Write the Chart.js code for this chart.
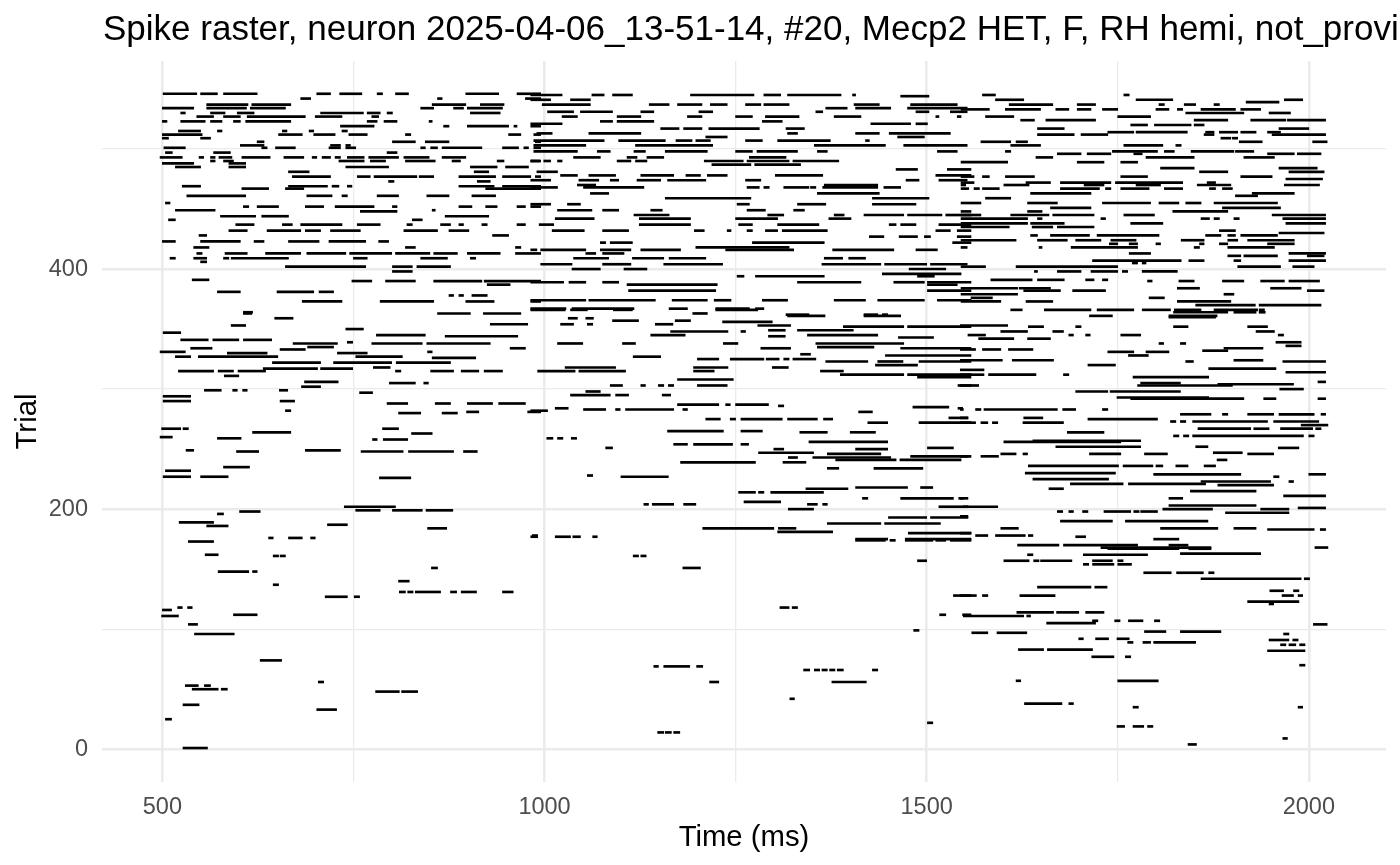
<!DOCTYPE html>
<html>
<head>
<meta charset="utf-8">
<title>Spike raster</title>
<script src="https://cdn.jsdelivr.net/npm/chart.js@4.4.1/dist/chart.umd.min.js"></script>
<style>
  html, body { margin: 0; padding: 0; background: #ffffff; }
  #wrap { position: relative; width: 1400px; height: 865px; overflow: hidden; }
</style>
</head>
<body>
<div id="wrap"><canvas id="chartRaster" width="1400" height="865"></canvas></div>
<script>
const chartTitle = 'Spike raster, neuron 2025-04-06_13-51-14, #20, Mecp2 HET, F, RH hemi, not_provided';
const xTitle = 'Time (ms)';
const yTitle = 'Trial';

// axis ticks (major ones get a label, minor ones only a grid line)
const xMajor = [500, 1000, 1500, 2000];
const xMinor = [750, 1250, 1750];
const yMajor = [0, 200, 400];
const yMinor = [100, 300, 500];

// spike runs: [trial, start ms, end ms]
const burstsLow = [
  [173,534,567],[162,556,573],[161,645,652],[161,654,661],[148,573,613],[148,618,624],[137,645,652],[127,713,742],[127,751,758],
  [116,500,512],[118,520,526],[118,533,539],[111,499,521],[112,593,624],[104,534,546],[96,542,594],[74,628,656],[56,704,711],
  [53,530,547],[53,555,563],[50,539,573],[50,577,585],[37,527,548],[33,702,728],[25,504,512],[1,527,559],[48,779,810],[48,813,834],
  [151,852,860],[140,809,823],[131,810,818],[131,821,828],[131,831,864],[131,877,885],[131,891,911],[131,945,959],
  [161,1116,1123],[161,1126,1133],[151,1181,1204],[174,1407,1446],[174,1452,1459],[174,1472,1508],[174,1512,1525],[174,1531,1558],
  [157,1488,1500],[128,1535,1558],[118,1308,1320],[118,1324,1331],[112,1517,1525],[112,1547,1558],[99,1483,1490],
  [69,1143,1149],[69,1156,1190],[69,1199,1207],[56,1216,1228],[14,1148,1156],[14,1158,1166],[14,1169,1177],
  [66,1339,1347],[66,1353,1360],[66,1363,1370],[66,1373,1380],[66,1383,1391],[66,1429,1436],[56,1376,1421],[42,1321,1327],[22,1501,1508],
  [170,1619,1673],[170,1679,1776],[170,1817,1842],[167,1737,1830],[167,1843,1872],[163,1832,1937],[162,1705,1789],[162,1632,1639],
  [157,1601,1634],[157,1640,1647],[157,1649,1690],[157,1717,1743],[157,1750,1757],[154,1705,1712],[154,1717,1745],[154,1750,1768],
  [147,1784,1820],[147,1827,1862],[147,1869,1876],[142,1859,1990],[142,1994,2001],[168,2008,2025],[135,1645,1715],[135,1720,1736],
  [132,1949,1967],[132,1980,1987],[128,1965,1980],[128,1986,1992],[128,1544,1565],[128,1573,1580],[128,1622,1668],[123,1920,1987],
  [121,1948,1954],[114,1618,1666],[114,1670,1699],[114,1708,1732],[111,1548,1627],[111,1631,1636],[105,1657,1721],
  [107,1717,1724],[107,1746,1753],[107,1764,1783],[107,1798,1805],[104,2006,2024],[97,1559,1580],[97,1592,1631],[98,1785,1813],[98,1832,1885],
  [92,1699,1705],[92,1721,1738],[92,1749,1765],[89,1763,1770],[89,1783,1793],[89,1797,1852],[96,1967,1974],[91,1948,1974],[91,1979,1986],
  [87,1963,1970],[87,1974,1983],[87,1988,1995],[82,1946,1995],[83,1620,1653],[83,1658,1717],[77,1716,1745],[77,1760,1767],[70,1988,1995],
  [57,1617,1623],[57,1750,1803],[38,1628,1677],[38,1686,1692],[35,1770,1777],[35,1986,1992],[19,1749,1759],[19,1770,1784],[19,1789,1796],
  [9,1966,1972],[4,1842,1853],
  [199,753,785],[199,801,840],[199,845,880],[196,572,580],[198,601,628],[189,522,567],[186,558,586],[187,716,742],[184,847,872],
  [176,639,645],[176,665,683],[176,694,700],[178,984,991],
  [193,1450,1500],[193,1505,1554],[188,1370,1440],[188,1445,1518],[184,1207,1300],[184,1306,1329],[181,1305,1377],[180,1476,1558],
  [175,1407,1449],[175,1472,1558],[177,982,991],[177,1014,1034],[177,1037,1047],[177,1063,1069],
  [198,1671,1678],[198,1686,1692],[198,1704,1711],[198,1732,1767],[198,1771,1778],[198,1780,1802],[197,1891,1974],[190,1675,1743],[190,1760,1868],
  [194,1544,1554],[184,1597,1620],[184,1806,1881],[184,1902,1931],[183,1946,2007],[183,2015,2022],[180,1544,1558],[178,1564,1580],
  [178,1590,1629],[178,1633,1639],[177,1695,1708],[175,1797,1830],[168,1728,1872]
];

const burstsMid = [
  [364,606,618],[359,647,671],[353,590,609],[350,740,763],[347,501,524],[341,524,560],[341,566,600],[341,606,643],[345,780,844],[344,870,965],
  [363,860,903],[363,920,969],[354,929,978],[338,671,729],[339,742,749],[338,774,840],[338,846,929],[331,497,530],[334,537,565],[330,585,637],
  [333,654,687],[330,729,768],[335,690,724],[327,517,537],[327,547,651],[327,753,814],[326,853,910],[334,955,975],[331,847,853],[322,644,707],
  [322,724,800],[322,806,877],[315,521,567],[315,573,593],[315,599,635],[317,632,703],[317,707,749],[318,776,798],[315,805,812],[315,851,881],
  [315,891,914],[315,921,945],[311,581,600],[306,686,730],[302,682,707],[305,797,831],[305,842,848],[299,555,577],[299,592,598],[299,605,611],
  [299,653,664],[297,758,775],[294,501,537],[290,501,537],[290,654,673],[282,661,668],[288,794,821],[288,857,877],[288,899,932],[288,940,975],
  [280,809,838],[280,866,886],[281,898,914],[281,978,995],[267,499,524],[267,527,534],[260,497,513],[259,572,603],[264,618,668],[267,788,809],
  [263,826,853],[258,775,781],[258,789,821],[249,531,541],[248,597,626],[249,687,733],[248,760,815],[248,822,881],[248,894,912],[232,504,537],
  [227,501,537],[227,550,586],[235,580,614],[226,784,825],[202,738,805],
  [366,982,1027],[366,1034,1056],[366,1090,1115],[359,1031,1043],[359,1054,1064],[354,1021,1038],[354,1056,1063],[357,1089,1123],[354,1145,1168],
  [357,1171,1191],[363,1194,1213],[366,1224,1279],[356,1233,1298],[353,1279,1322],[361,1318,1367],[361,1418,1466],[345,1139,1184],[348,1165,1240],
  [348,1257,1263],[349,1293,1315],[344,1293,1315],[349,1331,1404],[345,1344,1436],[352,1391,1470],[352,1475,1558],[343,1463,1509],[338,1017,1050],
  [338,1102,1119],[338,1234,1253],[334,1283,1322],[338,1355,1470],[335,1357,1431],[334,1466,1558],[328,1446,1558],[327,1116,1152],[325,1200,1228],
  [325,1243,1287],[325,1290,1307],[325,1313,1320],[325,1325,1355],[329,1335,1348],[323,1368,1423],[323,1436,1469],[323,1490,1558],[320,1433,1488],
  [318,1027,1093],[315,991,1040],[315,1045,1106],[318,1195,1240],[315,1195,1222],[318,1298,1319],[315,1361,1391],[312,1387,1470],[312,1475,1558],
  [310,1488,1558],[308,1174,1247],[303,1200,1239],[303,1086,1102],[303,1126,1132],[303,1149,1156],[303,1162,1169],[303,1541,1558],[295,1034,1086],
  [295,1093,1110],[298,1054,1073],[295,1154,1165],[282,982,1004],[284,1014,1031],[283,1051,1080],[283,1093,1099],[283,1106,1169],[283,1181,1187],
  [287,1174,1228],[287,1237,1243],[287,1250,1293],[286,1306,1313],[281,1411,1429],[285,1482,1529],[284,1541,1547],[275,1211,1230],[275,1243,1250],
  [275,1257,1311],[275,1318,1357],[275,1365,1377],[272,1423,1449],[272,1490,1558],[276,1529,1554],[265,1161,1234],[265,1257,1285],[264,1334,1370],
  [264,1400,1433],[259,1003,1011],[259,1017,1024],[259,1035,1042],[256,1346,1449],[254,1169,1187],[254,1195,1246],[254,1257,1267],[251,1080,1089],
  [247,1280,1352],[250,1300,1313],[243,1319,1331],[243,1351,1453],[246,1370,1440],[250,1407,1449],[241,1381,1460],[241,1465,1545],[244,1479,1558],
  [251,1501,1535],[239,1178,1276],[239,1312,1342],[234,1370,1385],[234,1431,1495],[228,1056,1063],[227,1100,1162],[217,1342,1397],[218,1407,1475],
  [218,1492,1508],[214,1254,1276],[214,1280,1287],[214,1296,1365],[209,1416,1423],[209,1466,1535],[209,1542,1548],[206,1261,1309],[204,1130,1136],
  [204,1141,1169],[204,1182,1198],[204,1344,1357],[204,1364,1370],[200,1319,1352],[202,1516,1554],
  [364,1823,1894],[364,1902,1931],[364,1935,1943],[360,1817,1878],[353,1544,1606],[352,1633,1653],[352,1695,1702],[352,1823,1842],[352,1920,1946],
  [348,1597,1632],[348,1665,1679],[348,1931,1955],[345,1960,1967],[345,1554,1577],[345,1686,1692],[345,1708,1714],[345,1754,1780],[342,1568,1614],
  [342,1632,1662],[339,1957,1990],[336,1970,1990],[338,1804,1810],[338,1832,1839],[333,1544,1564],[333,1573,1597],[333,1607,1639],[331,1737,1771],
  [331,1787,1817],[328,1764,1790],[332,1861,1894],[334,1889,1940],[324,1544,1599],[324,1612,1666],[320,1711,1747],[323,1839,1849],[324,1902,1940],
  [323,1966,2022],[317,1869,1957],[314,1970,2022],[316,1544,1575],[312,1544,1575],[312,1581,1643],[312,1679,1686],[310,1770,1869],[303,1544,1568],
  [303,1776,1900],[305,1780,1832],[304,1881,1980],[306,2012,2022],[300,1962,1993],[298,1695,1737],[298,1740,1832],[293,1749,1869],[292,1767,1915],
  [292,1941,1957],[292,2012,2022],[283,1544,1548],[283,1564,1571],[283,1575,1671],[283,1678,1695],[283,1730,1737],[279,1920,1954],[279,1961,2007],
  [279,2016,2022],[279,1832,1872],[279,1887,1894],[272,1544,1564],[272,1571,1580],[272,1586,1593],[276,1544,1554],[276,1627,1652],[272,1626,1679],
  [275,1711,1802],[273,1819,1826],[273,1832,1839],[273,1848,1946],[273,1954,2013],[270,1990,2025],[264,1684,1732],[267,1855,1924],[267,1928,1948],
  [267,1963,2005],[267,2009,2016],[261,1823,1830],[261,1836,1843],[261,1848,1993],[261,2000,2007],[256,1601,1754],[257,1639,1780],[252,1669,1780],
  [244,1544,1554],[244,1571,1594],[246,1597,1617],[246,1626,1632],[246,1713,1754],[246,1785,1815],[252,1852,1868],[247,1875,1913],[246,1920,1954],
  [251,1960,1987],[236,1633,1751],[236,1757,1796],[236,1800,1809],[236,1826,1842],[236,1863,1878],[230,1629,1747],[241,1880,1893],[225,1639,1738],
  [221,1688,1757],[221,1764,1865],[229,1797,1911],[229,2000,2022],[223,1859,1950],[223,1974,1980],[227,1954,1961],[220,1881,1954],[217,1660,1679],
  [215,1845,1931],[211,1967,2022],[209,1817,1835],[203,1817,1931],[200,1809,1874],[200,1937,1974],[201,1986,2022],[209,1544,1554],[202,1548,1593],
  [398,801,827],[391,539,561],[390,748,774],[390,792,831],[390,855,918],[390,921,995],[387,925,955],[381,572,602],[381,650,698],[381,705,724],
  [378,875,881],[378,888,894],[378,905,925],[373,683,735],[373,785,855],[373,897,934],[373,982,995],[363,606,617],
  [396,1442,1545],[394,1252,1261],[394,1276,1366],[394,1488,1510],[389,982,1025],[389,1032,1054],[389,1076,1097],[389,1331,1414],[389,1457,1497],
  [389,1501,1558],[387,1108,1226],[387,1501,1540],[382,1110,1224],[382,1501,1558],[374,982,1054],[374,1058,1145],[374,1167,1213],[374,1222,1244],
  [374,1285,1318],[374,1379,1420],[374,1436,1497],[374,1514,1558],[367,982,1028],[367,1036,1117],[367,1163,1187],[367,1224,1268],[367,1276,1287],
  [362,1316,1346],[362,1418,1436],[362,1442,1449],
  [398,1641,1645],[398,1671,1702],[398,1715,1750],[398,1756,1763],[398,1782,1828],[391,1584,1638],[391,1645,1680],[391,1708,1719],[391,1730,1737],
  [390,1789,1795],[390,1830,1850],[390,1887,1915],[390,1937,1968],[390,1974,2014],[384,1545,1619],[384,1621,1662],[384,1828,1857],[384,1950,1990],
  [382,1627,1675],[382,1691,1734],[382,1998,2020],[379,1545,1619],[379,1889,1902],[376,1558,1586],[376,1791,1811],[373,1545,1597],[373,1630,1665],
  [373,1828,1898],[370,1852,1930],[370,1935,2016],[366,1610,1625],[366,1654,1715],[366,1723,1771],[366,1782,1819],[366,1824,1859],[366,1876,1933],
  [366,1935,1942],[361,1713,1743],[361,1817,1880]
];

const burstsHigh = [
  [546,501,545],[546,550,572],[546,580,624],[546,702,720],[546,732,761],[546,781,788],[546,805,822],[546,897,940],[546,964,995],
  [542,681,694],[542,860,866],[542,975,995],[537,558,612],[537,617,668],[537,853,897],[537,916,947],
  [534,500,541],[534,558,610],[534,615,661],[534,838,855],[534,881,894],[534,899,945],
  [530,524,530],[530,563,582],[530,598,620],[530,707,763],[530,768,785],[530,794,801],[530,903,942],
  [527,545,567],[527,580,602],[527,611,687],[527,700,735],[527,774,783],
  [523,500,506],[523,524,556],[523,563,578],[523,593,602],[523,609,668],[523,768,781],[523,790,807],[523,849,853],
  [519,733,777],[519,868,875],[519,899,953],[519,960,964],[519,982,995],[515,521,550],[515,572,578],[515,657,663],[515,692,698],[515,735,742],
  [512,500,552],[512,652,683],[512,698,726],[512,744,768],[512,818,825],[512,953,969],[512,986,995],[509,500,508],[509,550,563],
  [506,624,633],[506,801,831],[506,844,875],[506,988,995],[503,602,633],[503,720,733],[503,740,746],
  [501,502,530],[501,630,637],[501,648,674],[501,718,733],[501,740,753],[501,838,844],[501,851,860],[501,866,918],[501,945,966],[501,973,979],[501,986,995],
  [497,504,513],[497,567,589],[497,794,807],
  [493,497,526],[493,548,554],[493,563,569],[493,574,591],[493,604,641],[493,659,685],[493,696,702],[493,709,720],[493,726,733],[493,742,764],
  [493,770,809],[493,816,849],[493,866,897],
  [490,563,569],[490,580,593],[490,731,764],[490,772,792],[490,818,857],[490,879,890],[490,938,947],[490,982,995],[488,500,541],[488,587,609],
  [485,517,550],[485,587,609],[485,740,796],[485,903,938],[485,949,979],[481,665,692],[481,908,927],
  [477,670,720],[477,755,772],[477,777,833],[477,836,855],[477,888,936],[477,945,982],[477,988,995],[473,796,803],[473,912,929],
  [469,526,550],[469,665,716],[469,722,731],[469,742,748],[469,888,934],[469,945,995],[467,604,639],[467,661,685],[467,923,995],
  [461,532,609],[461,689,722],[461,735,742],[461,781,809],[461,846,875],[461,905,936],[455,504,510],
  [452,606,613],[452,624,652],[452,687,711],[452,726,777],[452,801,807],[452,888,905],[452,923,938],[452,964,975],[452,982,995],
  [449,517,569],[449,853,857],[448,759,807],[444,576,622],[444,630,665],[444,870,927],[441,508,517],[441,827,840],
  [437,596,620],[437,657,670],[437,681,735],[437,755,785],[437,820,827],[437,864,877],[437,888,894],[437,918,925],[437,964,975],
  [432,587,611],[432,637,681],[432,687,707],[432,720,759],[432,816,860],[432,875,901],[428,548,558],[428,932,953],
  [423,500,517],[423,550,602],[423,620,633],[423,665,705],[423,718,766],[423,783,796],[418,541,561],[418,818,831],[418,962,969],
  [413,545,552],[413,582,611],[413,635,681],[413,689,740],[413,745,800],[413,805,850],[413,855,886],[413,899,942],[413,962,995],
  [409,510,517],[409,541,558],[409,580,587],[409,590,665],[409,750,768],[409,838,873],[409,903,910],[406,550,558],
  [402,661,766],[402,801,827],[402,833,877],
  [545,982,1023],[545,1062,1078],[545,1089,1115],[545,1191,1274],[545,1287,1309],[545,1318,1388],[545,1403,1407],[541,982,1008],[541,1034,1060],
  [544,1466,1503],[537,997,1060],[537,1137,1163],[537,1174,1206],[537,1217,1239],[537,1263,1283],[537,1287,1320],[537,1405,1438],[537,1479,1540],
  [534,1368,1396],[534,1407,1453],[534,1475,1553],[531,1004,1038],[531,1047,1089],[531,1126,1143],[531,1202,1220],[531,1355,1364],[531,1486,1503],[531,1531,1553],
  [527,1023,1043],[527,1095,1126],[527,1187,1206],[527,1250,1272],[527,1289,1333],[527,1379,1414],[527,1512,1516],[527,1540,1545],
  [523,1073,1089],[523,1095,1143],[523,1285,1311],[521,982,1023],[521,1427,1479],[521,1486,1501],
  [517,1152,1176],[517,1182,1206],[517,1215,1281],[517,1316,1340],[513,990,1010],[513,1058,1126],[513,1318,1331],[513,1407,1438],[513,1451,1531],
  [510,1211,1239],[510,1462,1497],[507,986,1078],[507,1097,1158],[507,1172,1193],[507,1198,1217],[507,1263,1285],[507,1305,1374],[507,1420,1425],
  [503,986,1054],[503,1119,1220],[503,1353,1446],[503,1470,1553],
  [498,986,1043],[498,1069,1086],[498,1117,1132],[498,1158,1213],[498,1250,1272],[498,1278,1331],[498,1357,1370],[498,1514,1540],
  [493,1038,1073],[493,1108,1121],[493,1134,1156],[493,1268,1316],
  [490,982,993],[490,999,1008],[490,1017,1023],[490,1095,1113],[490,1119,1134],[490,1209,1260],[490,1265,1320],[490,1325,1385],
  [487,1219,1270],[487,1275,1335],[483,1460,1488],[483,1527,1558],[481,990,1017],
  [478,1021,1043],[478,1058,1093],[478,1126,1169],[478,1185,1204],[478,1213,1239],[478,1302,1364],[478,1512,1558],
  [474,982,1008],[474,1045,1071],[474,1086,1097],[474,1121,1152],[474,1161,1211],[474,1263,1283],[474,1473,1490],[474,1516,1553],
  [470,1043,1067],[470,1366,1436],
  [468,982,1017],[468,1051,1130],[468,1265,1281],[468,1287,1294],[468,1313,1346],[468,1348,1355],[468,1364,1436],[468,1444,1466],
  [463,1060,1084],[463,1357,1438],[459,1158,1270],[459,1429,1503],
  [454,982,1008],[454,1030,1047],[454,1252,1268],[454,1331,1368],[454,1429,1486],
  [449,1017,1062],[449,1076,1097],[449,1139,1154],[449,1265,1289],[449,1326,1340],
  [445,1117,1163],[445,1292,1313],[445,1379,1392],[445,1418,1470],[445,1475,1520],[445,1525,1558],
  [442,1014,1065],[442,1124,1191],[442,1250,1305],[442,1372,1401],
  [437,993,1012],[437,1124,1191],[437,1254,1272],[437,1305,1359],[437,1451,1460],[437,1466,1486],[437,1516,1558],
  [432,1010,1052],[432,1076,1110],[432,1196,1209],[432,1239,1244],[432,1265,1272],[432,1289,1305],[432,1311,1370],[432,1512,1531],[432,1540,1558],
  [427,1425,1444],[427,1464,1488],[427,1497,1505],[427,1540,1558],[422,1073,1080],[422,1086,1115],[422,1272,1366],[422,1534,1558],
  [418,1198,1320],[416,982,990],[416,995,1054],[416,1073,1113],[416,1126,1178],[416,1237,1326],[416,1377,1457],[416,1486,1514],
  [413,1054,1067],[413,1076,1104],[409,1038,1084],[409,1115,1156],[409,1163,1211],[409,1366,1390],[409,1398,1420],
  [404,995,1036],[404,1076,1113],[404,1156,1233],[404,1363,1440],[404,1445,1500],[404,1505,1553],[400,1036,1073],[400,1104,1134],[400,1477,1525],
  [545,1573,1590],[545,1758,1765],[541,1590,1627],[541,1774,1822],[541,1968,1992],[539,1918,1961],
  [537,1608,1665],[537,1697,1721],[537,1804,1811],[537,1837,1852],[537,1876,1883],
  [533,1545,1582],[533,1603,1649],[533,1669,1686],[533,1697,1715],[533,1730,1750],[533,1800,1817],[533,1828,1835],[533,1859,1904],[533,1911,1937],
  [530,1839,1915],[530,1948,1976],[527,1577,1614],[527,1750,1793],
  [524,1623,1641],[524,1656,1721],[524,1850,1894],[524,1924,1970],[524,1972,2022],[520,1767,1789],[520,1798,1846],[520,1850,1863],
  [517,1645,1680],[517,1961,2000],[514,1737,1771],[514,1774,1841],[514,1865,1876],[514,1883,1907],[514,1911,1931],[514,1946,1963],
  [512,1645,1693],[512,1702,1737],[512,1863,1876],[512,1952,2022],[509,1885,1898],[509,1900,1907],
  [506,1571,1610],[506,1617,1632],[506,1909,1939],[506,2005,2024],[503,1610,1649],[503,1758,1809],[503,1826,1833],
  [498,1603,1610],[498,1743,1802],[498,1811,1824],[498,1846,1902],[498,1904,1928],
  [496,1671,1702],[496,1710,1741],[496,1771,1782],[496,1946,1981],[496,1985,2016],[493,1643,1665],[493,1787,1850],[493,1915,1955],
  [489,1545,1606],[489,1697,1732],[489,1754,1776],[484,1806,1850],[484,1961,2011],[481,1857,1894],[481,1974,2020],
  [477,1545,1562],[477,1573,1582],[477,1603,1641],[477,1754,1789],[477,1911,1952],[475,1970,2018],
  [472,1545,1562],[472,1630,1662],[472,1675,1741],[472,1747,1835],[472,1867,1878],
  [470,1545,1551],[470,1601,1634],[470,1706,1732],[470,1774,1806],[470,1854,1898],[470,1968,2014],
  [467,1545,1555],[467,1562,1569],[467,1573,1595],[467,1675,1726],[467,1734,1741],[467,1754,1791],[467,1811,1835],[467,1870,1878],[467,1887,1900],
  [463,1636,1715],[463,1926,1981],[461,1904,1933],[459,1577,1610],
  [455,1545,1571],[455,1632,1671],[455,1730,1793],[455,1804,1830],[455,1839,1859],[455,1876,1959],[451,1662,1715],[451,1887,1963],
  [448,1545,1558],[448,1632,1651],[448,1822,1894],[445,1545,1571],[445,1610,1660],[445,1665,1719],[445,1758,1798],[445,1952,2022],
  [442,1545,1632],[442,1645,1651],[442,1728,1734],[442,1859,1870],[442,1876,1883],[442,1902,1909],[442,1966,2022],
  [438,1545,1632],[438,1636,1680],[438,1767,1809],[438,1970,2022],[435,1545,1608],[435,1638,1665],[435,1671,1719],
  [432,1883,1904],[430,1961,2020],
  [428,1636,1645],[428,1662,1713],[428,1723,1804],[428,1865,1885],[428,1894,1904],[428,1911,1959],
  [424,1545,1617],[424,1645,1684],[424,1695,1728],[424,1741,1774],[424,1833,1863],[424,1894,1907],[424,1920,1981],
  [421,1739,1750],[421,1765,1776],[421,1800,1806],[421,1857,1863],[421,1883,1894],[421,1946,1981],
  [418,1545,1553],[418,1647,1651],[418,1689,1776],[418,1850,1857],[418,1894,1955],[413,1765,1793],[413,1974,2022],
  [411,1894,1911],[411,1915,1959],[411,1998,2020],[407,1717,1833],[407,1843,1863],[407,1902,1911],[407,1974,2022],
  [405,1769,1776],[405,1782,1787],[402,1545,1577],[402,1617,1750],[402,1907,1963],[402,1979,2007]
];

// panel limits (data range plus the usual 5% margin)
const xMin = 421, xMax = 2101;
const yMin = -27.3, yMax = 573.3;

document.addEventListener('DOMContentLoaded', function() {
    const fonte = '"Liberation Sans", Arial, Helvetica, sans-serif';

    // each run becomes a floating horizontal bar on its trial
    const runs = burstsLow.concat(burstsMid, burstsHigh).map(b => ({ y: b[0], x: [b[1], b[2]] }));

    // plot title sits left-aligned over the panel and simply runs off the edge
    const plotTitle = {
        id: 'plotTitle',
        afterDraw(chart) {
            const c = chart.ctx;
            c.save();
            c.font = '35px ' + fonte;
            c.fillStyle = '#000000';
            c.textAlign = 'left';
            c.textBaseline = 'alphabetic';
            c.fillText(chartTitle, chart.chartArea.left + 1, 40);
            c.restore();
        }
    };

    function gridStyle(major) {
        return {
            offset: false,
            drawTicks: false,
            color: '#ebebeb',
            lineWidth: ctx => (ctx.tick && major.includes(ctx.tick.value)) ? 2.6 : 1.3
        };
    }

    new Chart(document.getElementById('chartRaster'), {
        type: 'bar',
        data: {
            datasets: [{
                data: runs,
                backgroundColor: '#000000',
                borderWidth: 0,
                barThickness: 2
            }]
        },
        options: {
            indexAxis: 'y',
            responsive: false,
            animation: false,
            events: [],
            layout: { padding: { top: 61, right: 14, left: 0, bottom: 0 } },
            plugins: {
                legend: { display: false },
                tooltip: { enabled: false },
                title: { display: false }
            },
            scales: {
                x: {
                    type: 'linear',
                    min: xMin,
                    max: xMax,
                    offset: false,
                    border: { display: false },
                    grid: gridStyle(xMajor),
                    afterBuildTicks: s => { s.ticks = xMajor.concat(xMinor).sort((a, b) => a - b).map(v => ({ value: v })); },
                    afterFit: s => { s.height = 83; },
                    ticks: {
                        autoSkip: false,
                        maxRotation: 0,
                        padding: 11,
                        color: '#4d4d4d',
                        font: { family: fonte, size: 23.5 },
                        callback: v => xMajor.includes(v) ? String(v) : ''
                    },
                    title: {
                        display: true,
                        text: xTitle,
                        color: '#000000',
                        font: { family: fonte, size: 29.3 },
                        padding: { top: 0, bottom: 10 }
                    }
                },
                y: {
                    type: 'linear',
                    min: yMin,
                    max: yMax,
                    offset: false,
                    border: { display: false },
                    grid: gridStyle(yMajor),
                    afterBuildTicks: s => { s.ticks = yMajor.concat(yMinor).sort((a, b) => a - b).map(v => ({ value: v })); },
                    afterFit: s => { s.width = 102; },
                    ticks: {
                        autoSkip: false,
                        padding: 14,
                        color: '#4d4d4d',
                        font: { family: fonte, size: 23.5 },
                        callback: v => yMajor.includes(v) ? String(v) : ''
                    },
                    title: {
                        display: true,
                        text: yTitle,
                        color: '#000000',
                        font: { family: fonte, size: 29.3 },
                        padding: { top: 10, bottom: 0 }
                    }
                }
            }
        },
        plugins: [plotTitle]
    });
});
</script>
</body>
</html>
